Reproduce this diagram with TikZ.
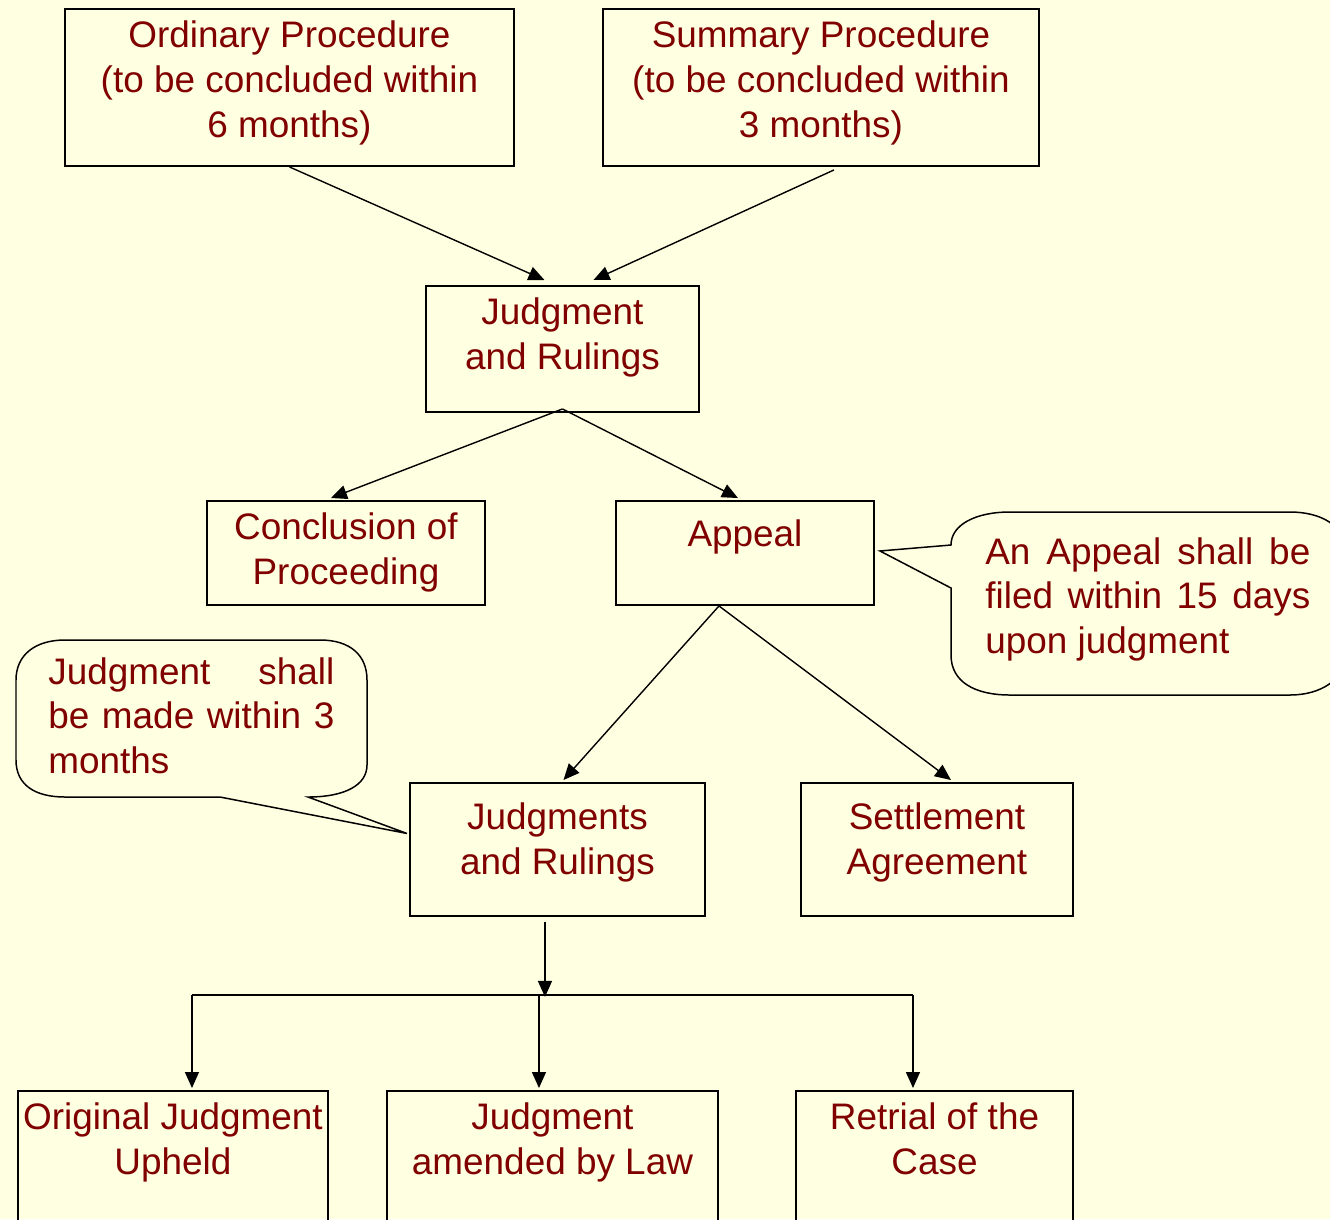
\documentclass[tikz,border=0pt]{standalone}
\usepackage{fontspec}
\setmainfont{Liberation Sans}
\usetikzlibrary{calc,arrows.meta}
\definecolor{paper}{RGB}{255,255,225}
\definecolor{txtred}{RGB}{128,0,0}
\newcommand{\boxtext}[4][4.3pt]{\parbox[c][#3][t]{#2}{\centering\vspace*{#1}\strut #4}}
\tikzset{
	box/.style={draw, line width=1.1pt, inner sep=0pt, anchor=north west, text=txtred},
	note/.style={inner sep=0pt, anchor=base west, text=txtred},
	bubble/.style={draw, line width=0.85pt, fill=paper},
	link/.style={line width=0.8pt},
	conn/.style={line width=0.8pt, -{Triangle[length=3.2mm,width=2.8mm]}},
}
\begin{document}
\begin{tikzpicture}[x=0.2mm, y=-0.2mm, font=\fontsize{21}{25.5}\selectfont]
			%%%%% START %%%%%
			\useasboundingbox (0, 0) rectangle (1330, 1219);
			\clip (0, 0) rectangle (1330, 1219);
			\fill[paper] (0, 0) rectangle (1330, 1219);
			
			\node[box] (ord) at (64, 8) {\boxtext{89.8mm}{31.4mm}{Ordinary Procedure\\(to be concluded within\\6 months)}};
			\node[box] (summ) at (602, 8) {\boxtext{87.2mm}{31.4mm}{Summary Procedure\\(to be concluded within\\3 months)}};
			
			\node[box] (jr) at (425, 285) {\boxtext{54.6mm}{25.2mm}{Judgment\\and Rulings}};
			
			\node[box] (concl) at (206, 500) {\boxtext{55.6mm}{20.8mm}{Conclusion of\\Proceeding}};
			\node[box] (appeal) at (615, 500) {\boxtext[8.3pt]{51.6mm}{20.8mm}{Appeal}};
			
			\node[box] (jr2) at (409, 782) {\boxtext[8.8pt]{59mm}{26.6mm}{Judgments\\and Rulings}};
			\node[box] (settle) at (800, 782) {\boxtext[8.8pt]{54.4mm}{26.6mm}{Settlement\\Agreement}};
			
			\node[box] (upheld) at (17, 1090) {\boxtext{62mm}{32mm}{Original Judgment\\Upheld}};
			\node[box] (amended) at (386, 1090) {\boxtext{66.2mm}{32mm}{Judgment\\amended by Law}};
			\node[box] (retrial) at (795, 1090) {\boxtext{55.4mm}{32mm}{Retrial of the\\Case}};
			
			% callouts
			\draw[bubble] (951, 545) -- ($(appeal.east)+(5, -2)$) -- (951, 588) -- (951, 655)
				.. controls (951, 682) and (975, 695) .. (1010, 695) -- (1290, 695)
				.. controls (1320, 695) and (1345, 680) .. (1345, 655) -- (1345, 550)
				.. controls (1345, 525) and (1320, 512) .. (1290, 512) -- (1010, 512)
				.. controls (975, 512) and (951, 525) .. cycle;
			\node[note] (appealnote) at (985, 564) {\parbox[t]{65mm}{\makebox[\linewidth][s]{An Appeal shall be}\\\makebox[\linewidth][s]{filed within 15 days}\\upon judgment}};
			
			\draw[bubble] (308, 797) -- ($(jr2.west)+(-2, -16)$) -- (220, 797) -- (65, 797)
				.. controls (35, 797) and (16, 785) .. (16, 760) -- (16, 680)
				.. controls (16, 655) and (35, 640) .. (65, 640) -- (320, 640)
				.. controls (350, 640) and (367, 655) .. (367, 680) -- (367, 765)
				.. controls (367, 785) and (345, 797) .. cycle;
			\node[note] (jrnote) at (48, 684) {\parbox[t]{57.2mm}{\makebox[\linewidth][s]{Judgment shall}\\\makebox[\linewidth][s]{be made within 3}\\months}};
			
			% arrows
			\draw[conn] (ord.south) -- ($(jr.north)+(-18, -5)$);
			\draw[conn] ($(summ.south)+(13, 3)$) -- ($(jr.north)+(31, -5)$);
			\draw[conn] ($(jr.south)+(0, -4)$) -- ($(concl.north)+(-15, -2)$);
			\draw[conn] ($(jr.south)+(0, -4)$) -- ($(appeal.north)+(-7, -2)$);
			\draw[conn] ($(appeal.south)+(-26, 0)$) -- ($(jr2.north)+(6, -2)$);
			\draw[conn] ($(appeal.south)+(-26, 0)$) -- ($(settle.north)+(14, -2)$);
			
			\coordinate (split) at ($(jr2.south)+(-12.5, 80)$);
			\draw[conn] ($(jr2.south)+(-12.5, 5)$) -- (split);
			\draw[link] ($(upheld.north)+(19, -95)$) -- ($(retrial.north)+(-21.5, -95)$);
			\draw[conn] ($(upheld.north)+(19, -95)$) -- ($(upheld.north)+(19, -2)$);
			\draw[conn] ($(amended.north)+(-13.5, -95)$) -- ($(amended.north)+(-13.5, -2)$);
			\draw[conn] ($(retrial.north)+(-21.5, -95)$) -- ($(retrial.north)+(-21.5, -2)$);
			%%%%% END %%%%%
\end{tikzpicture}
\end{document}
